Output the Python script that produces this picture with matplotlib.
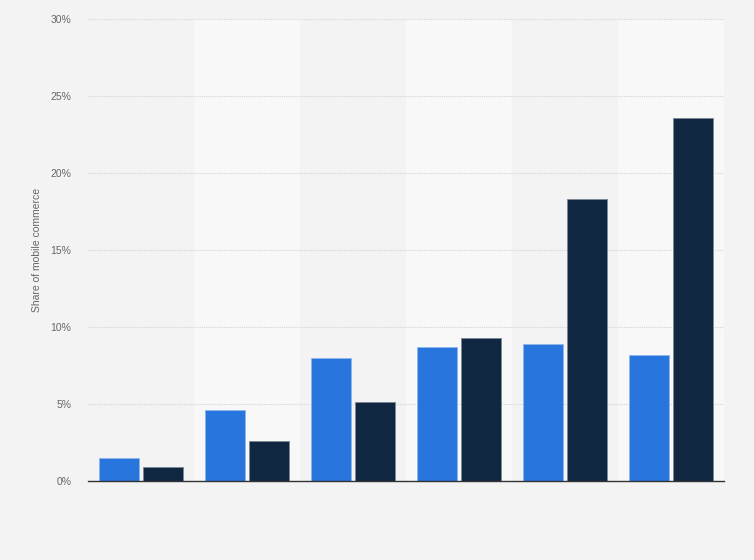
import matplotlib.pyplot as plt
import numpy as np

plt.rcParams['font.family'] = ['Liberation Sans', 'DejaVu Sans']

# values (percent)
groups = ["1", "2", "3", "4", "5", "6"]
series_a = [1.5, 4.6, 8.0, 8.7, 8.9, 8.2]
series_b = [0.9, 2.6, 5.1, 9.3, 18.3, 23.6]
yticks = [0, 5, 10, 15, 20, 25, 30]

bg = "#f3f3f3"
fig = plt.figure(figsize=(7.54, 5.6), dpi=100, facecolor=bg)
ax = fig.add_axes([88 / 754, 1 - 481 / 560, (724 - 88) / 754, (481 - 19) / 560])
ax.set_facecolor(bg)

x = np.arange(len(groups))
for i in x:
    if i % 2 == 1:
        ax.axvspan(i - 0.5, i + 0.5, color="#f8f8f8", zorder=0, lw=0)

w = 0.377
off = 0.2075
ax.bar(x - off, series_a, w, color="#2876dd", edgecolor="#8fb6ea", lw=0.6, zorder=3)
ax.bar(x + off, series_b, w, color="#0f2741", edgecolor="#7d8896", lw=0.6, zorder=3)

ax.set_xlim(-0.5, len(groups) - 0.5)
ax.set_ylim(0, 30)
ax.set_yticks(yticks)
ax.set_yticklabels([f"{v}%" for v in yticks], fontsize=7.5, color="#666666")
ax.tick_params(axis="y", length=0, pad=12)
ax.set_xticks([])
ax.grid(axis="y", color="#d4d4d4", ls=(0, (1, 1)), lw=0.8, zorder=1)
for s in ["top", "right", "left"]:
    ax.spines[s].set_visible(False)
ax.spines["bottom"].set_color("#333333")
ax.spines["bottom"].set_linewidth(1.0)
ax.spines["bottom"].set_zorder(4)
ax.set_ylabel("Share of mobile commerce", fontsize=7.5, color="#666666", labelpad=6)

fig.savefig("out.png", dpi=100, facecolor=bg)
